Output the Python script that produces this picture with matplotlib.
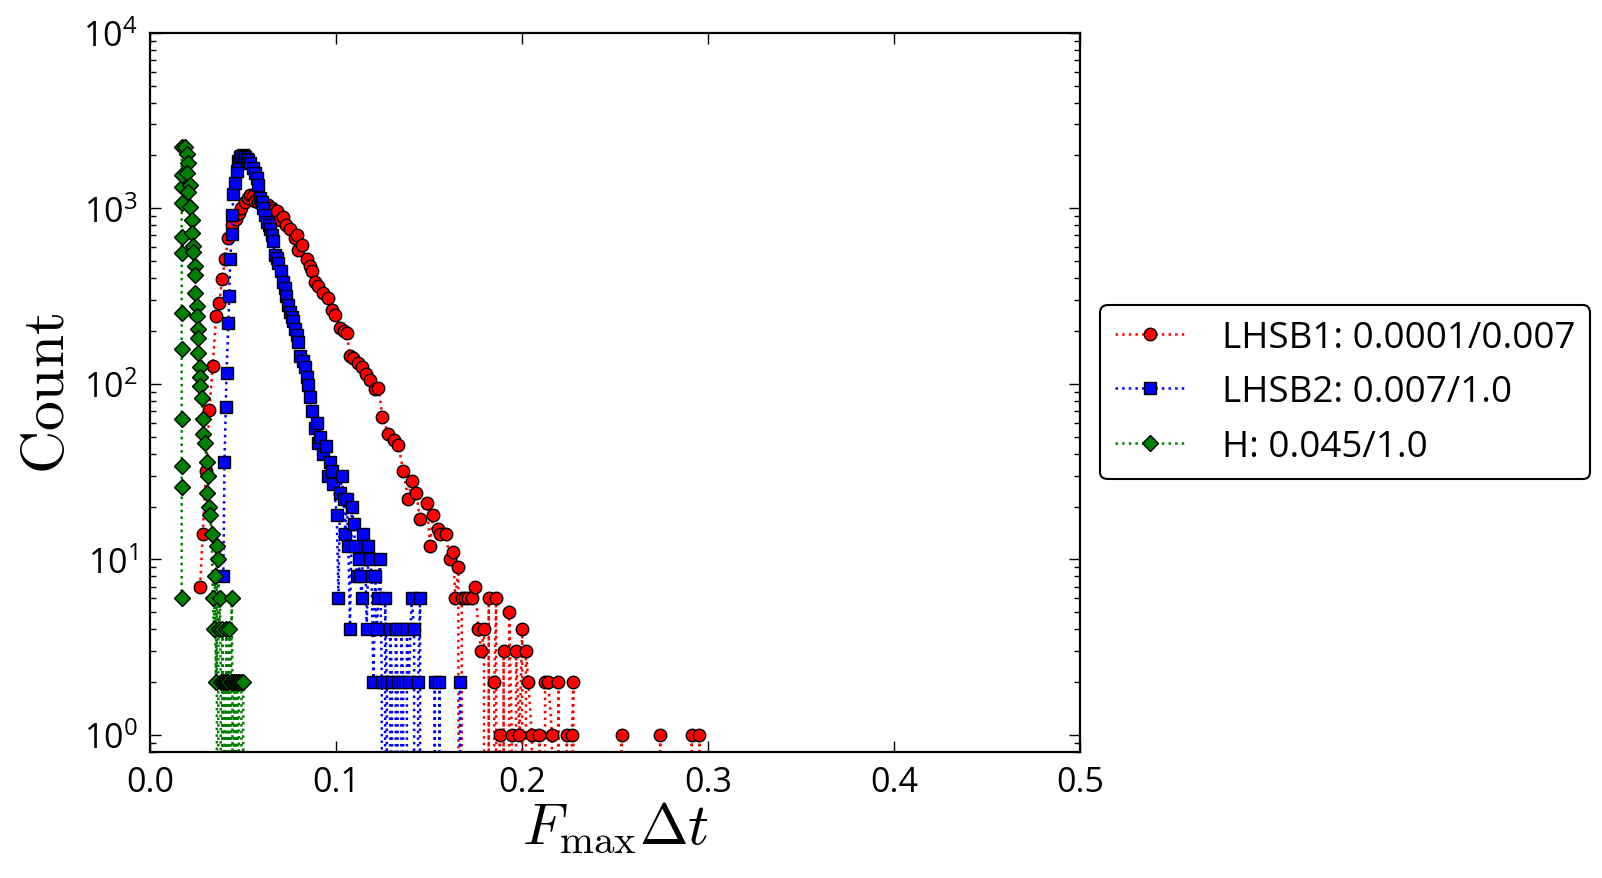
import numpy as np
import matplotlib
matplotlib.use("Agg")
import matplotlib.pyplot as plt

plt.rcParams['font.family'] = ['Open Sans', 'DejaVu Sans']

# LHSB1 (red circles)
red_x = [0.0268, 0.0282, 0.0300, 0.0318, 0.0336, 0.0354, 0.0372, 0.0386, 0.0404, 0.0420,
         0.0440, 0.0460, 0.0475, 0.0490, 0.0510, 0.0525, 0.0537, 0.0550, 0.0564, 0.0580,
         0.0600, 0.0618, 0.0635, 0.0653, 0.0668, 0.0680, 0.0698, 0.0716, 0.0730, 0.0752,
         0.0779, 0.0788, 0.0797, 0.0815, 0.0842, 0.0860, 0.0869, 0.0886, 0.0904, 0.0931,
         0.0958, 0.0976, 0.0994, 0.1020, 0.1040, 0.1057, 0.1074, 0.1092, 0.1119, 0.1140,
         0.1160, 0.1182, 0.1210, 0.1227, 0.1248, 0.1280, 0.1310, 0.1334, 0.1360, 0.1387,
         0.1406, 0.1430, 0.1450, 0.1487, 0.1505, 0.1520, 0.1545, 0.1560, 0.1590, 0.1610,
         0.1630, 0.1640, 0.1657, 0.1666, 0.1675, 0.1690, 0.1710, 0.1730, 0.1747, 0.1765,
         0.1780, 0.1795, 0.1808, 0.1820, 0.1835, 0.1850, 0.1860, 0.1870, 0.1880, 0.1890,
         0.1900, 0.1915, 0.1930, 0.1944, 0.1955, 0.1967, 0.1985, 0.2000, 0.2010, 0.2020,
         0.2033, 0.2052, 0.2070, 0.2093, 0.2110, 0.2123, 0.2141, 0.2160, 0.2180, 0.2195,
         0.2215, 0.2240, 0.2255, 0.2267, 0.2275, 0.2290, 0.2535, 0.2550, 0.2742, 0.2760,
         0.2912, 0.2930, 0.2953, 0.2970]
red_y = [7, 14, 32, 71, 127, 242, 290, 398, 515, 680,
         800, 870, 940, 1000, 1080, 1150, 1190, 1180, 1100, 1080,
         1050, 1060, 1050, 1000, 980, 960, 860, 890, 800, 760,
         680, 700, 580, 615, 515, 467, 437, 382, 363, 330,
         310, 264, 247, 208, 200, 195, 144, 141, 132, 125,
         114, 105, 93, 95, 65, 52, 48, 45, 32, 22,
         28, 24, 17, 21, 12, 18, 15, 14, 14, 10,
         11, 6, 9, 0, 6, 6, 6, 6, 7, 4,
         3, 4, 0, 6, 0, 2, 6, 0, 1, 0,
         3, 0, 5, 1, 0, 3, 1, 4, 0, 3,
         2, 1, 0, 1, 0, 2, 2, 1, 0, 2,
         0, 1, 0, 1, 2, 0, 1, 0, 1, 0,
         1, 0, 1, 0]

# LHSB2 (blue squares)
blue_x = [0.0393, 0.0399, 0.0406, 0.0410, 0.0420, 0.0425, 0.0430, 0.0438, 0.0441, 0.0447,
          0.0456, 0.0465, 0.0474, 0.0482, 0.0490, 0.0498, 0.0505, 0.0512, 0.0520, 0.0528,
          0.0537, 0.0550, 0.0564, 0.0572, 0.0580, 0.0591, 0.0600, 0.0608, 0.0618, 0.0627,
          0.0636, 0.0644, 0.0652, 0.0659, 0.0671, 0.0680, 0.0689, 0.0703, 0.0716, 0.0723,
          0.0730, 0.0742, 0.0752, 0.0761, 0.0770, 0.0779, 0.0788, 0.0796, 0.0806, 0.0820,
          0.0832, 0.0841, 0.0850, 0.0860, 0.0870, 0.0885, 0.0895, 0.0904, 0.0913, 0.0930,
          0.0945, 0.0955, 0.0967, 0.0975, 0.0985, 0.1003, 0.1012, 0.1020, 0.1030, 0.1040,
          0.1049, 0.1057, 0.1065, 0.1074, 0.1084, 0.1093, 0.1102, 0.1110, 0.1120, 0.1128,
          0.1137, 0.1146, 0.1155, 0.1164, 0.1173, 0.1182, 0.1190, 0.1200, 0.1210, 0.1218,
          0.1227, 0.1236, 0.1245, 0.1254, 0.1263, 0.1272, 0.1281, 0.1290, 0.1300, 0.1310,
          0.1320, 0.1330, 0.1340, 0.1350, 0.1360, 0.1370, 0.1380, 0.1390, 0.1406, 0.1419,
          0.1430, 0.1440, 0.1451, 0.1460, 0.1530, 0.1540, 0.1555, 0.1570, 0.1666, 0.1680]
blue_y = [8, 36, 74, 116, 222, 318, 513, 710, 910, 1200,
          1400, 1620, 1870, 1960, 1990, 2000, 1990, 1960, 1900, 1880,
          1820, 1700, 1590, 1480, 1350, 1150, 1080, 1000, 920, 840,
          800, 760, 700, 650, 543, 520, 490, 437, 382, 350,
          315, 280, 258, 240, 227, 204, 190, 174, 144, 135,
          125, 110, 99, 84, 70, 56, 60, 46, 50, 40,
          44, 30, 36, 32, 27, 18, 6, 24, 30, 22,
          14, 22, 12, 4, 20, 16, 12, 8, 10, 8,
          6, 14, 12, 4, 12, 10, 8, 2, 8, 4,
          6, 10, 2, 0, 6, 2, 0, 4, 2, 0,
          4, 2, 0, 4, 2, 0, 4, 2, 6, 4,
          0, 2, 6, 0, 2, 0, 2, 0, 2, 0]

# H (green diamonds)
green_x = [0.0169, 0.0169, 0.0169, 0.0169, 0.0169, 0.0169, 0.0169, 0.0169, 0.0169, 0.0169,
           0.0169, 0.0169, 0.0187, 0.0196, 0.0205, 0.0196, 0.0214, 0.0205, 0.0214, 0.0223,
           0.0223, 0.0232, 0.0232, 0.0241, 0.0241, 0.0241, 0.0250, 0.0250, 0.0259, 0.0259,
           0.0259, 0.0268, 0.0268, 0.0268, 0.0277, 0.0286, 0.0286, 0.0295, 0.0304, 0.0312,
           0.0304, 0.0316, 0.0323, 0.0331, 0.0336, 0.0342, 0.0348, 0.0353, 0.0358, 0.0362,
           0.0366, 0.0370, 0.0375, 0.0379, 0.0383, 0.0387, 0.0391, 0.0395, 0.0400, 0.0404,
           0.0408, 0.0412, 0.0416, 0.0420, 0.0425, 0.0429, 0.0433, 0.0438, 0.0442, 0.0446,
           0.0450, 0.0455, 0.0460, 0.0465, 0.0470, 0.0476, 0.0482, 0.0490, 0.0500, 0.0510]
green_y = [6, 26, 34, 63, 157, 253, 556, 690, 1070, 1320,
           1550, 2240, 2240, 2050, 1810, 1590, 1360, 1230, 1020, 860,
           720, 607, 565, 467, 419, 330, 276, 242, 204, 182,
           150, 124, 110, 97, 83, 63, 52, 46, 36, 30,
           24, 20, 18, 14, 6, 4, 8, 2, 12, 0,
           10, 4, 6, 2, 0, 4, 2, 0, 2, 0,
           4, 2, 0, 2, 4, 0, 2, 6, 2, 0,
           2, 0, 2, 0, 2, 2, 0, 2, 2, 0]

labels = ['LHSB1: 0.0001/0.007', 'LHSB2: 0.007/1.0', 'H: 0.045/1.0']

fig = plt.figure(figsize=(16.02, 8.79), dpi=100)
ax = fig.add_axes([0.0938, 0.1433, 0.5804, 0.8184])

ax.plot(red_x, red_y, 'o:', color='red', lw=1.8, ms=9, mec='black', mew=1, label=labels[0])
ax.plot(blue_x, blue_y, 's:', color='blue', lw=1.8, ms=8.5, mec='black', mew=1, label=labels[1])
ax.plot(green_x, green_y, 'D:', color='green', lw=1.8, ms=8.5, mec='black', mew=1, label=labels[2])

ax.set_yscale('log')
ax.set_xlim(0.0, 0.5)
ax.set_ylim(0.8, 1e4)
ax.set_xticks([0.0, 0.1, 0.2, 0.3, 0.4, 0.5])

ax.tick_params(which='both', direction='in', top=True, right=True, labelsize=24.5, pad=9)
ax.tick_params(which='major', length=8, width=1)
ax.tick_params(which='minor', length=4, width=1)
for sp in ax.spines.values():
    sp.set_linewidth(1.6)

ax.set_xlabel(r'$F_{\max}\Delta t$', fontsize=42, math_fontfamily='cm', labelpad=0)
ax.set_ylabel(r'$\mathrm{Count}$', fontsize=43, math_fontfamily='cm', labelpad=4)

leg = ax.legend(loc='center left', bbox_to_anchor=(1.0, 0.5), numpoints=1, fontsize=26.5,
                fancybox=True, framealpha=1, handlelength=1.9, handletextpad=1.0,
                borderaxespad=0.55)
leg.get_frame().set_edgecolor('black')
leg.get_frame().set_linewidth(1.5)

fig.savefig('out.png', dpi=100)
